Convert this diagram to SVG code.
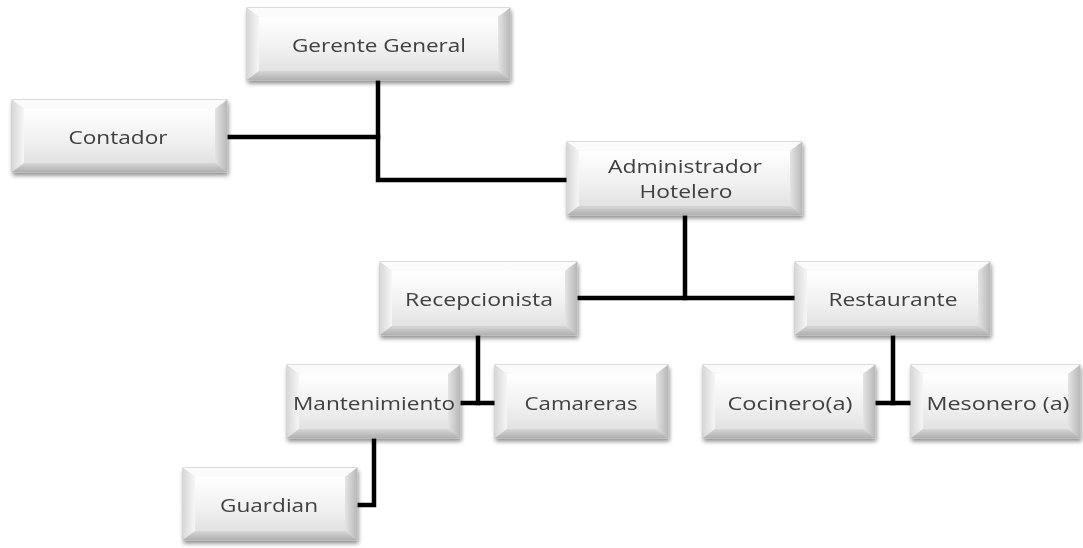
<svg xmlns="http://www.w3.org/2000/svg" width="1083" height="548" viewBox="0 0 1083 548">
<defs>
<filter id="sh" x="-10%" y="-20%" width="125%" height="150%">
<feGaussianBlur in="SourceAlpha" stdDeviation="2"/>
<feOffset dx="1" dy="3"/>
<feComponentTransfer><feFuncA type="linear" slope="0.45"/></feComponentTransfer>
<feMerge><feMergeNode/><feMergeNode in="SourceGraphic"/></feMerge>
</filter>
<linearGradient id="face" x1="0" y1="0" x2="0" y2="1">
<stop offset="0" stop-color="#ffffff"/>
<stop offset="0.6" stop-color="#f0f0f0"/>
<stop offset="1" stop-color="#e2e2e2"/>
</linearGradient>
<linearGradient id="rside" x1="0" y1="0" x2="1" y2="0">
<stop offset="0" stop-color="#e4e4e4"/>
<stop offset="1" stop-color="#b8b8b8"/>
</linearGradient>
<linearGradient id="lside" x1="0" y1="0" x2="1" y2="0">
<stop offset="0" stop-color="#d8d8d8"/>
<stop offset="1" stop-color="#f6f6f6"/>
</linearGradient>
<linearGradient id="bside" x1="0" y1="0" x2="0" y2="1">
<stop offset="0" stop-color="#d6d6d6"/>
<stop offset="1" stop-color="#b0b0b0"/>
</linearGradient>
</defs>
<style>
.outer{fill:#d8d8d8;stroke:#bdbdbd;stroke-width:1}
.top{fill:#fbfbfb}
.left{fill:url(#lside)}
.right{fill:url(#rside)}
.bot{fill:url(#bside)}
.face{fill:url(#face)}
.lbl{font-family:"Open Sans","DejaVu Sans",sans-serif;font-size:18px;fill:#404040;text-anchor:middle}
.conn{stroke:#000;stroke-width:4.5;fill:none;stroke-linecap:square}
</style>
<rect width="1083" height="548" fill="#ffffff"/>

<g id="connectors">
<path class="conn" d="M378 80 V180 H566"/>
<path class="conn" d="M228 137 H378"/>
<path class="conn" d="M685 216 V298"/>
<path class="conn" d="M578 298 H794"/>
<path class="conn" d="M478 336 V403"/>
<path class="conn" d="M461 403 H494"/>
<path class="conn" d="M893 336 V403"/>
<path class="conn" d="M876 403 H910"/>
<path class="conn" d="M374 439 V505 H358"/>
</g>

<g id="gerente" filter="url(#sh)">
<rect class="outer" x="247" y="8" width="263" height="72"/>
<polygon class="top" points="247,8 510,8 498,17 259,17"/>
<polygon class="left" points="247,8 259,17 259,71 247,80"/>
<polygon class="right" points="510,8 510,80 498,71 498,17"/>
<polygon class="bot" points="247,80 259,71 498,71 510,80"/>
<rect class="face" x="259" y="17" width="239" height="54"/>
<text class="lbl" x="379" y="52" textLength="174" lengthAdjust="spacingAndGlyphs">Gerente General</text>
</g>

<g id="contador" filter="url(#sh)">
<rect class="outer" x="12" y="100" width="215" height="72"/>
<polygon class="top" points="12,100 227,100 215,109 24,109"/>
<polygon class="left" points="12,100 24,109 24,163 12,172"/>
<polygon class="right" points="227,100 227,172 215,163 215,109"/>
<polygon class="bot" points="12,172 24,163 215,163 227,172"/>
<rect class="face" x="24" y="109" width="191" height="54"/>
<text class="lbl" x="118" y="144" textLength="99" lengthAdjust="spacingAndGlyphs">Contador</text>
</g>

<g id="administrador" filter="url(#sh)">
<rect class="outer" x="567" y="142" width="235" height="73"/>
<polygon class="top" points="567,142 802,142 790,151 579,151"/>
<polygon class="left" points="567,142 579,151 579,206 567,215"/>
<polygon class="right" points="802,142 802,215 790,206 790,151"/>
<polygon class="bot" points="567,215 579,206 790,206 802,215"/>
<rect class="face" x="579" y="151" width="211" height="55"/>
<text class="lbl" x="685" y="173" textLength="154" lengthAdjust="spacingAndGlyphs">Administrador</text>
<text class="lbl" x="686" y="198" textLength="93" lengthAdjust="spacingAndGlyphs">Hotelero</text>
</g>

<g id="recepcionista" filter="url(#sh)">
<rect class="outer" x="380" y="262" width="197" height="73"/>
<polygon class="top" points="380,262 577,262 565,271 392,271"/>
<polygon class="left" points="380,262 392,271 392,326 380,335"/>
<polygon class="right" points="577,262 577,335 565,326 565,271"/>
<polygon class="bot" points="380,335 392,326 565,326 577,335"/>
<rect class="face" x="392" y="271" width="173" height="55"/>
<text class="lbl" x="479" y="306" textLength="148" lengthAdjust="spacingAndGlyphs">Recepcionista</text>
</g>

<g id="restaurante" filter="url(#sh)">
<rect class="outer" x="795" y="262" width="195" height="73"/>
<polygon class="top" points="795,262 990,262 978,271 807,271"/>
<polygon class="left" points="795,262 807,271 807,326 795,335"/>
<polygon class="right" points="990,262 990,335 978,326 978,271"/>
<polygon class="bot" points="795,335 807,326 978,326 990,335"/>
<rect class="face" x="807" y="271" width="171" height="55"/>
<text class="lbl" x="893" y="306" textLength="129" lengthAdjust="spacingAndGlyphs">Restaurante</text>
</g>

<g id="mantenimiento" filter="url(#sh)">
<rect class="outer" x="287" y="365" width="173" height="73"/>
<polygon class="top" points="287,365 460,365 448,374 299,374"/>
<polygon class="left" points="287,365 299,374 299,429 287,438"/>
<polygon class="right" points="460,365 460,438 448,429 448,374"/>
<polygon class="bot" points="287,438 299,429 448,429 460,438"/>
<rect class="face" x="299" y="374" width="149" height="55"/>
<text class="lbl" x="374" y="410" textLength="162" lengthAdjust="spacingAndGlyphs">Mantenimiento</text>
</g>

<g id="camareras" filter="url(#sh)">
<rect class="outer" x="495" y="365" width="173" height="73"/>
<polygon class="top" points="495,365 668,365 656,374 507,374"/>
<polygon class="left" points="495,365 507,374 507,429 495,438"/>
<polygon class="right" points="668,365 668,438 656,429 656,374"/>
<polygon class="bot" points="495,438 507,429 656,429 668,438"/>
<rect class="face" x="507" y="374" width="149" height="55"/>
<text class="lbl" x="581" y="410" textLength="113" lengthAdjust="spacingAndGlyphs">Camareras</text>
</g>

<g id="cocinero" filter="url(#sh)">
<rect class="outer" x="703" y="365" width="172" height="73"/>
<polygon class="top" points="703,365 875,365 863,374 715,374"/>
<polygon class="left" points="703,365 715,374 715,429 703,438"/>
<polygon class="right" points="875,365 875,438 863,429 863,374"/>
<polygon class="bot" points="703,438 715,429 863,429 875,438"/>
<rect class="face" x="715" y="374" width="148" height="55"/>
<text class="lbl" x="790" y="410" textLength="125" lengthAdjust="spacingAndGlyphs">Cocinero(a)</text>
</g>

<g id="mesonero" filter="url(#sh)">
<rect class="outer" x="911" y="365" width="169" height="73"/>
<polygon class="top" points="911,365 1080,365 1068,374 923,374"/>
<polygon class="left" points="911,365 923,374 923,429 911,438"/>
<polygon class="right" points="1080,365 1080,438 1068,429 1068,374"/>
<polygon class="bot" points="911,438 923,429 1068,429 1080,438"/>
<rect class="face" x="923" y="374" width="145" height="55"/>
<text class="lbl" x="998" y="410" textLength="143" lengthAdjust="spacingAndGlyphs">Mesonero (a)</text>
</g>

<g id="guardian" filter="url(#sh)">
<rect class="outer" x="183" y="468" width="174" height="72"/>
<polygon class="top" points="183,468 357,468 345,477 195,477"/>
<polygon class="left" points="183,468 195,477 195,531 183,540"/>
<polygon class="right" points="357,468 357,540 345,531 345,477"/>
<polygon class="bot" points="183,540 195,531 345,531 357,540"/>
<rect class="face" x="195" y="477" width="150" height="54"/>
<text class="lbl" x="269" y="512" textLength="98" lengthAdjust="spacingAndGlyphs">Guardian</text>
</g>
</svg>
